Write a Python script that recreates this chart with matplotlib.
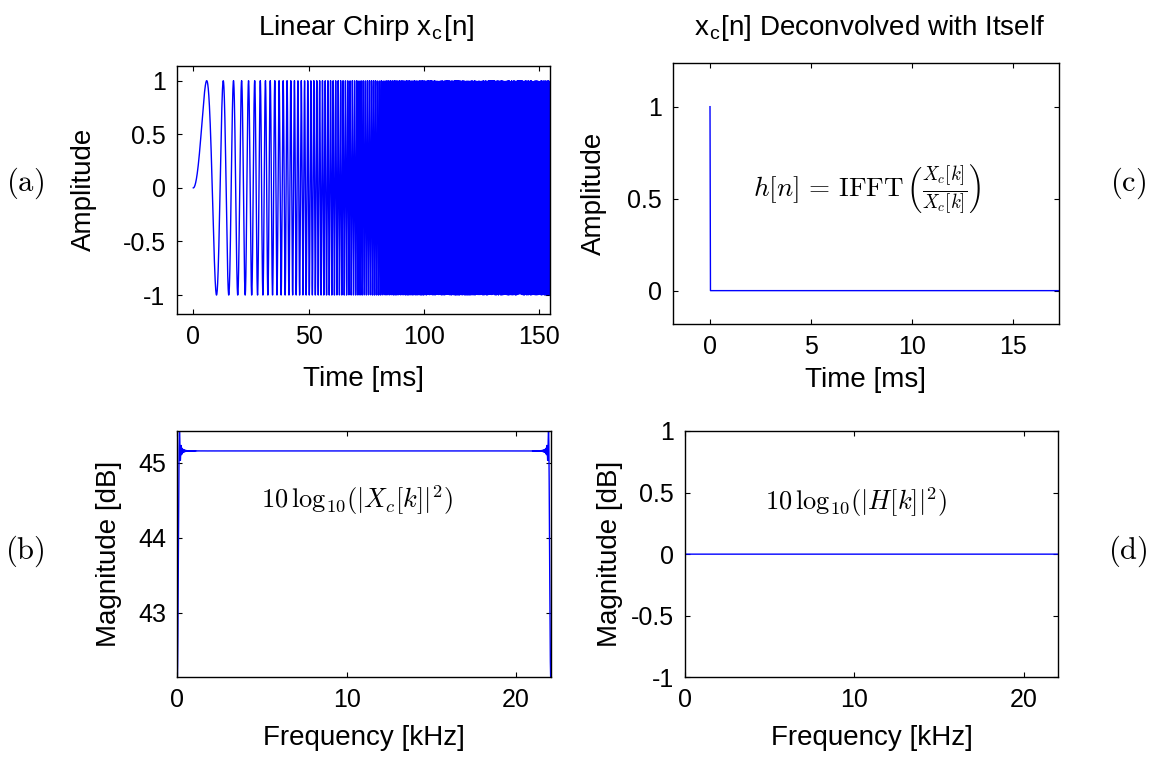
import numpy as np
import matplotlib
matplotlib.use("Agg")
import matplotlib.pyplot as plt
from matplotlib.ticker import FormatStrFormatter

# ---- data / signal parameters ----
fs = 44100.0               # sample rate [Hz]
n_samples = 65536          # FFT length (plateau 45.15 dB ~ 10log10(N/2))
f_start = 0.0              # chirp start frequency [Hz]
f_stop = fs / 2            # chirp stop frequency [Hz]

a_xticks = [0, 50, 100, 150]
a_yticks = [-1, -0.5, 0, 0.5, 1]
b_xticks = [0, 10, 20]
b_yticks = [43, 44, 45]
c_xticks = [0, 5, 10, 15]
c_yticks = [0, 0.5, 1]
d_xticks = [0, 10, 20]
d_yticks = [-1, -0.5, 0, 0.5, 1]

# linear chirp x_c[n]
t = np.arange(n_samples) / fs
dur = n_samples / fs
k_rate = (f_stop - f_start) / dur
x_c = np.sin(2 * np.pi * (f_start * t + 0.5 * k_rate * t ** 2))
X_c = np.fft.fft(x_c)
H = X_c / X_c
h = np.real(np.fft.ifft(H))
half = n_samples // 2 + 1
freq_khz = np.arange(half) * fs / n_samples / 1000.0
Xc_db = 10 * np.log10(np.abs(X_c[:half]) ** 2)
H_db = 10 * np.log10(np.abs(H[:half]) ** 2)
t_ms = t * 1000.0

# ---- styling ----
plt.rcParams['font.family'] = ['Liberation Sans', 'DejaVu Sans']
plt.rcParams['mathtext.fontset'] = 'cm'
tick_fs = 18
label_fs = 20
line_kw = dict(color=(0, 0, 1), lw=1.0)

fig = plt.figure(figsize=(11.53, 7.58), dpi=100)
W, Hh = 1153.0, 758.0

def mk_axes(l, r, top, bot):
    return fig.add_axes([l / W, 1 - bot / Hh, (r - l) / W, (bot - top) / Hh])

ax_a = mk_axes(176.7, 550.0, 66.0, 313.7)
ax_b = mk_axes(177.3, 550.7, 431.0, 677.3)
ax_c = mk_axes(672.7, 1059.0, 62.7, 324.3)
ax_d = mk_axes(685.0, 1058.3, 431.0, 677.3)

# (a)
m = t_ms <= 156
ax_a.plot(t_ms[m], x_c[m], **line_kw)
ax_a.set_xlim(-7.2, 154.6)
ax_a.set_ylim(-1.174, 1.137)
ax_a.set_xticks(a_xticks)
ax_a.set_yticks(a_yticks)
ax_a.set_xlabel('Time [ms]', fontsize=label_fs)
ax_a.set_ylabel('Amplitude', fontsize=label_fs)

# (b)
ax_b.plot(freq_khz, Xc_db, **line_kw)
ax_b.set_xlim(0, 22.05)
ax_b.set_ylim(42.14, 45.42)
ax_b.set_xticks(b_xticks)
ax_b.set_yticks(b_yticks)
ax_b.set_xlabel('Frequency [kHz]', fontsize=label_fs)
ax_b.set_ylabel('Magnitude [dB]', fontsize=label_fs)
ax_b.text(0.481, 0.72, r'$10\,\mathrm{log}_{10}(|X_c[k]|^2)$', transform=ax_b.transAxes,
          ha='center', va='center', fontsize=19)

# (c)
mc = t_ms <= 18
ax_c.plot(t_ms[mc], h[mc], **line_kw)
ax_c.set_xlim(-1.845, 17.26)
ax_c.set_ylim(-0.183, 1.239)
ax_c.set_xticks(c_xticks)
ax_c.set_yticks(c_yticks)
ax_c.set_xlabel('Time [ms]', fontsize=label_fs)
ax_c.set_ylabel('Amplitude', fontsize=label_fs)
ax_c.text(0.503, 0.521, r'$h[n]\,=\,\mathrm{IFFT}\,\left(\frac{X_c[k]}{X_c[k]}\right)$',
          transform=ax_c.transAxes, ha='center', va='center', fontsize=19.5)

# (d)
ax_d.plot(freq_khz, H_db, **line_kw)
ax_d.set_xlim(0, 22.05)
ax_d.set_ylim(-1, 1)
ax_d.set_xticks(d_xticks)
ax_d.set_yticks(d_yticks)
ax_d.set_xlabel('Frequency [kHz]', fontsize=label_fs)
ax_d.set_ylabel('Magnitude [dB]', fontsize=label_fs)
ax_d.text(0.458, 0.712, r'$10\,\mathrm{log}_{10}(|H[k]|^2)$', transform=ax_d.transAxes,
          ha='center', va='center', fontsize=19)

ylab_x = {ax_a: -0.214, ax_b: -0.149, ax_c: -0.171, ax_d: -0.166}
xlab_y = {ax_a: -0.212, ax_b: -0.193, ax_c: -0.165, ax_d: -0.193}
for ax in (ax_a, ax_b, ax_c, ax_d):
    ax.tick_params(direction='in', top=True, right=True, length=3.5, width=0.8,
                   labelsize=tick_fs, pad=8)
    for s in ax.spines.values():
        s.set_linewidth(1.0)
    ax.xaxis.set_major_formatter(FormatStrFormatter('%g'))
    ax.yaxis.set_major_formatter(FormatStrFormatter('%g'))
    ax.yaxis.set_label_coords(ylab_x[ax], 0.5)
    ax.xaxis.set_label_coords(0.5, xlab_y[ax])

# titles
fig.text(366 / W, 1 - 35 / Hh, r'Linear Chirp x$_\mathregular{c}$[n]', ha='center',
         va='baseline', fontsize=label_fs)
fig.text(870 / W, 1 - 35 / Hh, r'x$_\mathregular{c}$[n] Deconvolved with Itself', ha='center',
         va='baseline', fontsize=label_fs)

# panel labels
for lab, px, py in (('(a)', 25, 183), ('(b)', 25, 551), ('(c)', 1128, 183), ('(d)', 1128, 551)):
    fig.text(px / W, 1 - py / Hh, r'$\mathrm{' + lab + '}$', ha='center', va='center', fontsize=22)

fig.savefig('out.png', dpi=100)
